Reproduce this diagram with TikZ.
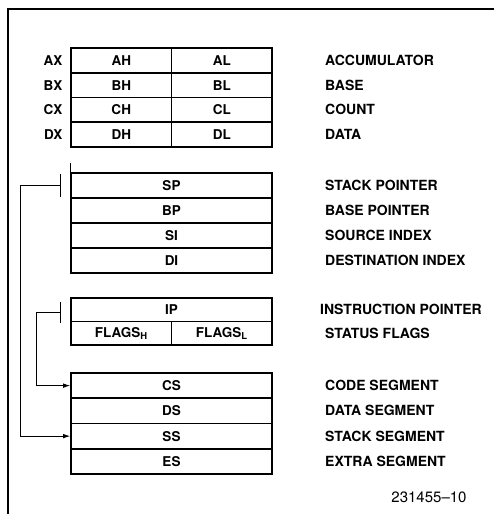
\documentclass[tikz,border=0pt]{standalone}
\usepackage{fontspec}
\setmainfont{TeX Gyre Heros}
\usetikzlibrary{math}
\usetikzlibrary{calc,arrows.meta,positioning}

\tikzset{
   reg/.style={draw, line width=1.6pt, minimum height=24.75pt, inner sep=0pt, font=\fontsize{13.5}{15}\selectfont\bfseries},
   half/.style={reg, minimum width=100.5pt},
   full/.style={reg, minimum width=201pt},
   lname/.style={anchor=east, inner sep=0pt, font=\fontsize{13.5}{15}\selectfont\bfseries},
   rname/.style={anchor=west, inner sep=0pt, font=\fontsize{14}{16}\selectfont\bfseries},
   conn/.style={line width=0.8pt},
   arr/.style={conn, -{Latex[length=7pt,width=4.5pt]}}
}

\begin{document}
\begin{tikzpicture}[x=1pt,y=-1pt]

% Page size of the reference
\useasboundingbox (0,0) rectangle (494,514);

% Left edge of the registers
\def\xl{71}
% Right edge of the registers
\def\xr{272}
% Row height
\def\rh{24.75}
% Start of the right hand names
\def\xn{325}

% Frame (only top and left edge are shown)
\draw[line width=1.6pt] (494,9) -- (8,9) -- (8,514);

% General registers, split in high and low halves
\foreach \r/\rn [count=\i] in {A/ACCUMULATOR,B/BASE,C/COUNT,D/DATA}{
   \tikzmath{ \yc = 48 + (\i-0.5)*\rh; }
   \node[half] (\r h) at ({\xl+(\xr-\xl)/4},\yc) {\r H};
   \node[half] (\r l) at ({\xl+3*(\xr-\xl)/4},\yc) {\r L};
   \node[lname] (\r x) at (62.5,\yc) {\r X};
   \node[rname] (\r n) at (\xn,\yc) {\rn};
}

% Pointer and index registers
\foreach \r/\rl/\rn [count=\i] in {sp/SP/STACK POINTER,bp/BP/BASE POINTER,si/SI/SOURCE INDEX,di/DI/DESTINATION INDEX}{
   \tikzmath{ \yc = 173 + (\i-0.5)*25; }
   \node[full, minimum height=25pt] (\r) at ({(\xl+\xr)/2},\yc) {\rl};
   \node[rname] (\r n) at (\xn,\yc) {\rn};
}

% Instruction pointer and flags
\node[full, minimum height=23.5pt] (ip) at ({(\xl+\xr)/2},309.75) {IP};
\node[half, minimum height=23.5pt] (flh) at ({\xl+(\xr-\xl)/4},333.25) {FLAGS\textsubscript{H}};
\node[half, minimum height=23.5pt] (fll) at ({\xl+3*(\xr-\xl)/4},333.25) {FLAGS\textsubscript{L}};
\node[rname] (ipn) at (320,309.75) {INSTRUCTION POINTER};
\node[rname] (fln) at (\xn,333.25) {STATUS FLAGS};

% Segment registers
\foreach \r/\rl/\rn [count=\i] in {cs/CS/CODE SEGMENT,ds/DS/DATA SEGMENT,ss/SS/STACK SEGMENT,es/ES/EXTRA SEGMENT}{
   \tikzmath{ \yc = 373 + (\i-0.5)*25.25; }
   \node[full, minimum height=25.25pt] (\r) at ({(\xl+\xr)/2},\yc) {\rl};
   \node[rname] (\r n) at (\xn,\yc) {\rn};
}

% SP -> SS
\coordinate (sptick) at ($(sp.west)+(-9.5,0)$);
\draw[conn] ($(sptick)+(0,-11.5)$) -- ($(sptick)+(0,11.5)$);
\draw[conn] (sp.north west) -- ++(0,-9.5);
\draw[arr] (sptick) -- ++(-40,0) |- (ss.west);

% IP -> CS
\coordinate (iptick) at ($(ip.west)+(-9.5,3)$);
\draw[conn] ($(iptick)+(0,-11)$) -- ($(iptick)+(0,10)$);
\draw[arr] (iptick) -- ++(-24,0) |- (cs.west);

% Figure number
\node[font=\fontsize{15}{17}\selectfont] (fig) at (429,497) {231455--10};

\end{tikzpicture}
\end{document}
